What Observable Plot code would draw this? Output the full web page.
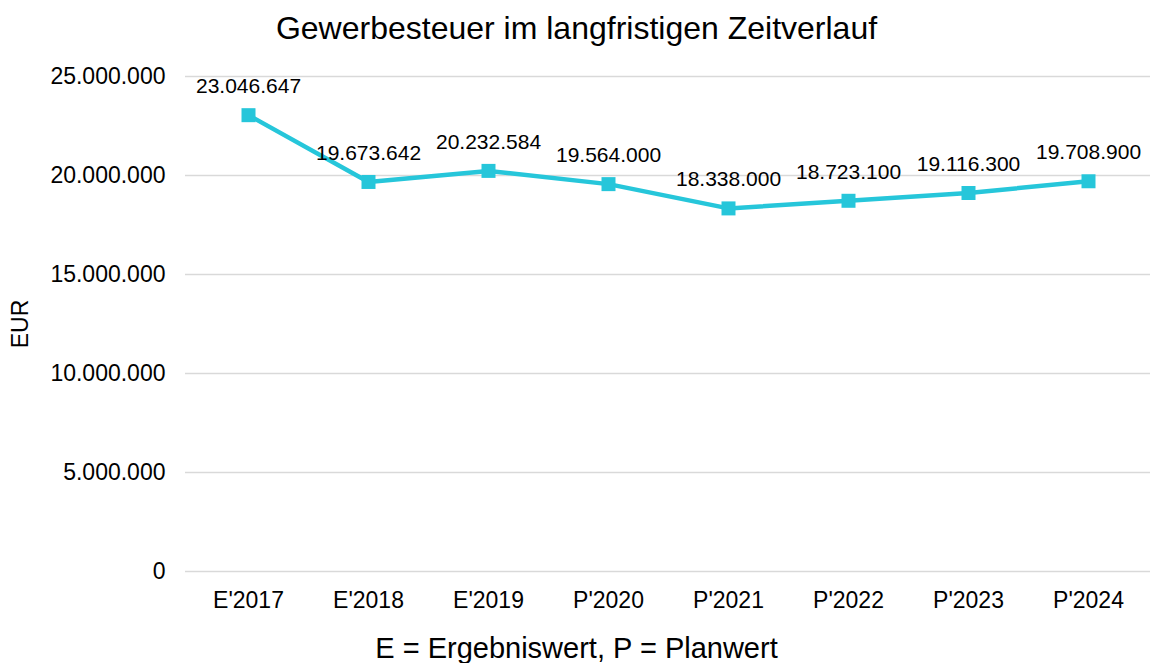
<!DOCTYPE html>
<html>
<head>
<meta charset="utf-8">
<script src="https://cdn.jsdelivr.net/npm/d3@7"></script>
<script src="https://cdn.jsdelivr.net/npm/@observablehq/plot@0.6"></script>
<style>
  html, body { margin: 0; padding: 0; background: #fff; }
  body { width: 1153px; height: 663px; position: relative; overflow: hidden; font-family: "Liberation Sans", Arial, sans-serif; }
  #title { position: absolute; left: 0; width: 1153px; top: 0; height: 56px; line-height: 56px; text-align: center; font-size: 32px; color: #000; }
  #chart { position: absolute; left: 0; top: 56px; }
  #caption { position: absolute; left: 0; width: 1153px; top: 630px; height: 36px; line-height: 36px; text-align: center; font-size: 29px; color: #000; }
</style>
</head>
<body>
<div id="title">Gewerbesteuer im langfristigen Zeitverlauf</div>
<div id="chart"></div>
<div id="caption">E = Ergebniswert, P = Planwert</div>
<script>
const categories = ["E'2017", "E'2018", "E'2019", "P'2020", "P'2021", "P'2022", "P'2023", "P'2024"];
const values = [23046647, 19673642, 20232584, 19564000, 18338000, 18723100, 19116300, 19708900];
const yTicks = [0, 5000000, 10000000, 15000000, 20000000, 25000000];

const de = d3.formatLocale({decimal: ",", thousands: ".", grouping: [3], currency: ["", " €"]});
const fmt = de.format(",d");

const data = categories.map((c, i) => ({cat: c, val: values[i]}));
const color = "#26C6DA";

const chart = Plot.plot({
  width: 1153,
  height: 574,
  marginTop: 20,
  marginBottom: 59,
  marginLeft: 185,
  marginRight: 3,
  style: {fontFamily: "'Liberation Sans', Arial, sans-serif", fontSize: "23px", color: "#000", background: "#fff"},
  x: {type: "point", domain: categories, padding: 0.5},
  y: {domain: [0, 25000000]},
  marks: [
    Plot.gridY(yTicks, {stroke: "#d9d9d9", strokeOpacity: 1, strokeWidth: 1.5}),
    Plot.axisX({tickSize: 0, tickPadding: 20, fontSize: 23, label: null}),
    Plot.axisY(yTicks, {tickSize: 0, tickPadding: 20, fontSize: 23, tickFormat: d => d === 0 ? "0" : fmt(d),
      label: "EUR", labelAnchor: "center", labelArrow: "none", labelOffset: 174}),
    Plot.line(data, {x: "cat", y: "val", stroke: color, strokeWidth: 4.5}),
    Plot.dot(data, {x: "cat", y: "val", symbol: "square", r: 7.9, fill: color, stroke: "none"}),
    Plot.text(data, {x: "cat", y: "val", text: d => fmt(d.val), dy: -29, fontSize: 21, fill: "#000"})
  ]
});
document.getElementById("chart").appendChild(chart);
</script>
</body>
</html>
